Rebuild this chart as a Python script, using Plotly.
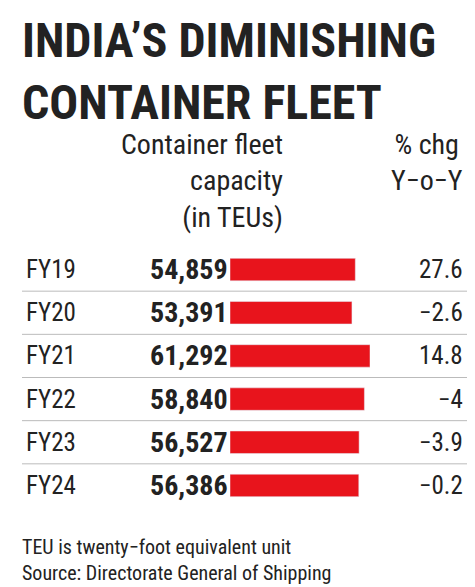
import plotly.graph_objects as go

years = ["FY19", "FY20", "FY21", "FY22", "FY23", "FY24"]
capacity = [54859, 53391, 61292, 58840, 56527, 56386]
chg = ["27.6", "-2.6", "14.8", "-4", "-3.9", "-0.2"]

W, H = 475, 587
F = "Liberation Sans Narrow, Roboto Condensed, Roboto, sans-serif"
fig = go.Figure(go.Bar(y=years, x=capacity, orientation="h", marker_color="#e8141c",
                       width=0.52, hoverinfo="skip"))
ann = []
for y, c, p in zip(years, capacity, chg):
    ann.append(dict(x=16/W, y=y, xref="paper", yref="y", text=y, showarrow=False,
                    xanchor="left", font=dict(size=25, color="#222", family=F)))
    ann.append(dict(x=222/W, y=y, xref="paper", yref="y", text=f"<b>{c:,}</b>", showarrow=False,
                    xanchor="right", font=dict(size=28, color="#222", family=F)))
    ann.append(dict(x=457/W, y=y, xref="paper", yref="y", text=p.replace("-", "−"), showarrow=False,
                    xanchor="right", font=dict(size=25, color="#222", family=F)))
ann.append(dict(x=12/W, y=1-2/H, xref="paper", yref="paper", showarrow=False, xanchor="left",
                yanchor="top", align="left",
                text="<b>INDIA’S DIMINISHING<br>CONTAINER FLEET</b>",
                font=dict(size=48, color="#222", family=F)))
ann.append(dict(x=277/W, y=1-118/H, xref="paper", yref="paper", showarrow=False, xanchor="right",
                yanchor="top", align="right",
                text="Container fleet<br>capacity<br>(in TEUs)",
                font=dict(size=28, color="#222", family=F)))
ann.append(dict(x=457/W, y=1-118/H, xref="paper", yref="paper", showarrow=False, xanchor="right",
                yanchor="top", align="center",
                text="% chg<br>Y−o−Y", font=dict(size=28, color="#222", family=F)))
ann.append(dict(x=12/W, y=1-525/H, xref="paper", yref="paper", showarrow=False, xanchor="left",
                yanchor="top", align="left",
                text="TEU is twenty−foot equivalent unit<br>Source: Directorate General of Shipping",
                font=dict(size=20, color="#222", family=F)))
shapes = [dict(type="line", xref="paper", yref="y", x0=14/W, x1=462/W, y0=i+0.5, y1=i+0.5,
               line=dict(color="#bbb", width=1)) for i in range(5)]
fig.update_layout(width=W, height=H, margin=dict(l=0, r=0, t=0, b=0),
                  paper_bgcolor="white", plot_bgcolor="white", showlegend=False,
                  annotations=ann, shapes=shapes,
                  xaxis=dict(domain=[222/W, 362/W], range=[0, 61292], visible=False, fixedrange=True),
                  yaxis=dict(domain=[1-499/H, 1-240/H], autorange="reversed", visible=False,
                             categoryorder="array", categoryarray=years))
fig.write_html("out.html")
